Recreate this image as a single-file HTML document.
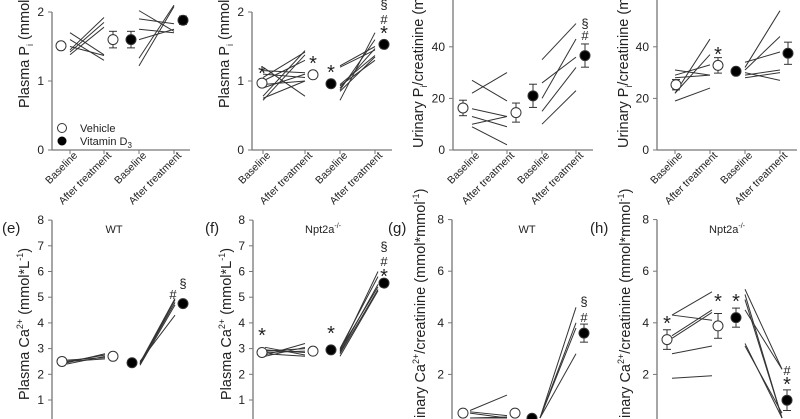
<!DOCTYPE html>
<html><head><meta charset="utf-8">
<style>
html,body{margin:0;padding:0;background:#fff;width:800px;height:419px;overflow:hidden;}
svg{display:block;font-family:"Liberation Sans",Arial,sans-serif;overflow:hidden;}
</style></head>
<body>
<svg id="fig" width="800" height="419" viewBox="0 0 800 419" xmlns="http://www.w3.org/2000/svg"></svg>
<script>
// ---- data (baseline -> after treatment per animal; means & SEM) ----
const categories = ["Baseline","After treatment","Baseline","After treatment"];
const aTicks = [0,1,2];
const aVehLines = [[1.7,1.38],[1.6,1.3],[1.5,1.37],[1.45,1.92],[1.42,1.85],[1.38,1.78]];
const aVitLines = [[2.02,1.72],[1.9,1.83],[1.75,1.7],[1.6,1.75],[1.33,2.1],[1.22,2.08]];
const aMeans = [1.51,1.6,1.6,1.88];
const aSem = [0.05,0.12,0.12,0.06];
const bTicks = [0,1,2];
const bVehLines = [[1.2,0.78],[1.15,1.12],[1.1,1.05],[1.05,1.42],[1.0,1.3],[0.95,1.0],[0.9,1.1],[0.78,1.44],[0.75,1.0],[0.72,1.38]];
const bVitLines = [[1.22,1.5],[1.2,1.45],[0.95,1.37],[0.93,1.3],[0.9,1.47],[0.87,1.6],[0.72,1.7],[0.85,1.35]];
const bMeans = [0.97,1.09,0.96,1.53];
const bSem = [0.04,0.05,0.05,0.05];
const cTicks = [0,20,40];
const cVehLines = [[27,19],[22,30],[16,13],[13,9],[10,13],[9,2]];
const cVitLines = [[35,49],[26,36],[20,43],[15,32],[10,23]];
const cMeans = [16.3,14.5,21,36.6];
const cSem = [3,3.7,4.5,4.5];
const dTicks = [0,20,40];
const dVehLines = [[31,29],[29,33],[28,29],[22,43],[22,37],[19,24]];
const dVitLines = [[34,38],[32,54],[31,44],[30,27],[29,31],[28,30]];
const dMeans = [25.3,32.8,30.5,37.5];
const dSem = [2,3,0.5,4.3];
const eTicks = [1,2,3,4,5,6,7,8];
const eVehLines = [[2.5,2.75],[2.55,2.65],[2.45,2.8],[2.5,2.6],[2.4,2.7]];
const eVitLines = [[2.4,4.9],[2.4,4.8],[2.45,4.95],[2.5,4.3],[2.35,4.7]];
const eMeans = [2.5,2.7,2.45,4.75];
const eSem = [0.03,0.03,0.04,0.1];
const fTicks = [1,2,3,4,5,6,7,8];
const fVehLines = [[2.75,3.2],[2.8,2.7],[2.9,3.0],[3.05,2.75],[2.85,2.9],[2.95,2.85],[2.7,3.05]];
const fVitLines = [[2.9,6.0],[2.85,5.5],[2.8,5.3],[2.95,5.4],[2.7,5.25],[3.0,5.8]];
const fMeans = [2.85,2.9,2.95,5.55];
const fSem = [0.03,0.03,0.04,0.08];
const gTicks = [2,4,6,8];
const gVehLines = [[0.6,1.2],[0.55,0.4],[0.5,0.3],[0.3,0.35],[0.1,0.2]];
const gVitLines = [[0.1,4.6],[0.2,4.0],[0.15,3.8],[0.0,2.8]];
const gMeans = [0.5,0.5,0.3,3.6];
const gSem = [0.05,0.12,0.05,0.35];
const hTicks = [2,4,6,8];
const hVehLines = [[4.3,5.2],[4.3,4.1],[3.5,4.5],[3.4,4.4],[2.8,3.1],[1.85,1.95]];
const hVitLines = [[5.3,2.2],[5.1,0.2],[4.5,2.2],[3.2,0.1],[3.1,0.5],[4.9,0.3]];
const hMeans = [3.35,3.88,4.2,1.0];
const hSem = [0.38,0.48,0.37,0.4];

const NS="http://www.w3.org/2000/svg";
const svg=document.getElementById('fig');
function mk(tag,attrs,parent){const e=document.createElementNS(NS,tag);for(const k in attrs)e.setAttribute(k,attrs[k]);(parent||svg).appendChild(e);return e;}

const panels=[
 {id:'a',ax:52,right:190,y0:150,vmax:2,ppu:69,ticks:aTicks,veh:aVehLines,vit:aVitLines,means:aMeans,sem:aSem,lx:[70,104,139,174],mx:[61,113,131,183],xaxis:true},
 {id:'b',ax:252,right:392,y0:150,vmax:2,ppu:69,ticks:bTicks,veh:bVehLines,vit:bVitLines,means:bMeans,sem:bSem,lx:[263,305,340,375],mx:[262,313,331,384],xaxis:true},
 {id:'c',ax:453,right:593,y0:150,vmax:60,ppu:2.58,ticks:cTicks,veh:cVehLines,vit:cVitLines,means:cMeans,sem:cSem,lx:[472,507,542,576],mx:[463,516,533,585],xaxis:true},
 {id:'d',ax:657,right:797,y0:150,vmax:60,ppu:2.58,ticks:dTicks,veh:dVehLines,vit:dVitLines,means:dMeans,sem:dSem,lx:[675,710,745,780],mx:[676,718,736,788],xaxis:true},
 {id:'e',ax:52,right:190,y0:425.7,vmax:8,ppu:25.7,ticks:eTicks,veh:eVehLines,vit:eVitLines,means:eMeans,sem:eSem,lx:[67,105,140,175],mx:[62,113,132,183]},
 {id:'f',ax:253,right:392,y0:425.7,vmax:8,ppu:25.7,ticks:fTicks,veh:fVehLines,vit:fVitLines,means:fMeans,sem:fSem,lx:[265,305,340,378],mx:[262,313,331,384]},
 {id:'g',ax:452,right:593,y0:426,vmax:8,ppu:25.8,ticks:gTicks,veh:gVehLines,vit:gVitLines,means:gMeans,sem:gSem,lx:[470,507,540,576],mx:[463,515,532,584]},
 {id:'h',ax:657,right:797,y0:426,vmax:8,ppu:25.8,ticks:hTicks,veh:hVehLines,vit:hVitLines,means:hMeans,sem:hSem,lx:[672,712,745,782],mx:[667,718,736,787]},
];

panels.forEach(p=>{
  const y=v=>p.y0-v*p.ppu;
  const g=mk('g',{});
  
  
  const yax=mk('line',{x1:p.ax,y1:Math.max(0,y(p.vmax)),x2:p.ax,y2:Math.min(419,p.y0),stroke:'#777','stroke-width':1.3},g);
  
  
  p.ticks.forEach(t=>{
    const ty=y(t);
    mk('line',{x1:p.ax-4,y1:ty,x2:p.ax,y2:ty,stroke:'#777','stroke-width':1},g);
    const tl=mk('text',{x:p.ax-8,y:ty+4,'text-anchor':'end','font-size':12,fill:'#222'},g);
    tl.textContent=t;
    
    
  });
  if(p.xaxis){
    const xax=mk('line',{x1:p.ax,y1:p.y0,x2:p.right,y2:p.y0,stroke:'#777','stroke-width':1.3},g);
    
    
    p.lx.forEach((lx,i)=>{
      mk('line',{x1:lx,y1:p.y0,x2:lx,y2:p.y0+4,stroke:'#777','stroke-width':1},g);
      const t=mk('text',{x:lx+8,y:p.y0+6,'text-anchor':'end','font-size':10.5,fill:'#222',transform:`rotate(-45 ${lx+8} ${p.y0+6})`},g);
      t.textContent=categories[i];
      
      
    });
  }
  [[p.veh,0],[p.vit,2]].forEach(([lines,o])=>{
    lines.forEach(l=>{
      const y1=Math.min(418,y(l[0])), y2=Math.min(418,y(l[1]));
      const ln=mk('line',{x1:p.lx[o],y1:y1,x2:p.lx[o+1],y2:y2,stroke:'#333','stroke-width':1},g);
      
      
    });
  });
  p.means.forEach((m,i)=>{
    const cx=p.mx[i], cy=y(m), s=p.sem[i]*p.ppu;
    if(s>3){
      mk('line',{x1:cx,y1:cy-s,x2:cx,y2:cy+s,stroke:'#333','stroke-width':1},g);
      mk('line',{x1:cx-4,y1:cy-s,x2:cx+4,y2:cy-s,stroke:'#333','stroke-width':1},g);
      mk('line',{x1:cx-4,y1:cy+s,x2:cx+4,y2:cy+s,stroke:'#333','stroke-width':1},g);
    }
    const c=mk('circle',{cx:cx,cy:cy,r:5,fill:i<2?'#fff':'#000',stroke:'#333','stroke-width':1},g);
    
    
  });
});

function t(x,y,s,size,name,anchor,rot){const e=document.createElementNS(NS,'text');e.setAttribute('x',x);e.setAttribute('y',y);e.setAttribute('font-size',size);e.setAttribute('fill','#222');if(anchor)e.setAttribute('text-anchor',anchor);if(rot)e.setAttribute('transform',`rotate(-90 ${x} ${y})`);e.innerHTML=s;svg.appendChild(e);return e;}
const S=(x,y)=>t(x,y,'*',20,'significance-star','middle');
const H=(x,y)=>t(x,y,'#',13,'hash-mark','middle');
const P=(x,y)=>t(x,y,'§',13,'section-mark','middle');
// b
S(262,80);S(313,70);S(331,79);S(384,40);H(384,24);P(384,9);
// c
H(585,40);P(585,28);
// d
S(718,61);
// e
H(173,299);P(183,288);
// f
S(262,342);S(331,340);S(384,283);H(384,266);P(384,251);
// g
H(584,322);P(584,306);
// h
S(667,330);S(718,308);S(736,308);S(787,391);H(787,375);
// legend
const cv=mk('circle',{cx:62,cy:128,r:4.5,fill:'#fff',stroke:'#333'});


const cd=mk('circle',{cx:62,cy:141,r:4.5,fill:'#000'});


t(80,132,'Vehicle',11,'legend-vehicle');
t(80,145,'Vitamin D<tspan font-size="8" dy="3">3</tspan>',11,'legend-vitamin-d3');
// panel labels & titles
t(2,233,'(e)',15,'panel-label-e');t(205,233,'(f)',15,'panel-label-f');t(388,233,'(g)',15,'panel-label-g');t(590,233,'(h)',15,'panel-label-h');
t(114,233,'WT',11,'panel-title-e','middle');t(323,233,'Npt2a<tspan font-size="7" dy="-5">-/-</tspan>',11,'panel-title-f','middle');
t(527,233,'WT',11,'panel-title-g','middle');t(727,233,'Npt2a<tspan font-size="7" dy="-5">-/-</tspan>',11,'panel-title-h','middle');
// y titles
const pi='Plasma P<tspan font-size="9" dy="4">i</tspan><tspan dy="-4"> (mmol*L</tspan>';
t(29,108,pi,14.5,'y-axis-title-a',null,true);
t(229,108,pi,14.5,'y-axis-title-b',null,true);
const up='Urinary P<tspan font-size="9" dy="4">i</tspan><tspan dy="-4">/creatinine (mmol</tspan>';
t(423,148,up,14.5,'y-axis-title-c',null,true);
t(628,148,up,14.5,'y-axis-title-d',null,true);
const ca='Plasma Ca<tspan font-size="9" dy="-6">2+</tspan><tspan dy="6"> (mmol*L</tspan><tspan font-size="9" dy="-6">-1</tspan><tspan dy="6">)</tspan>';
t(29,400,ca,14.5,'y-axis-title-e',null,true);
t(231,400,ca,14.5,'y-axis-title-f',null,true);
const uc='inary Ca<tspan font-size="9" dy="-6">2+</tspan><tspan dy="6">/creatinine (mmol*mmol</tspan><tspan font-size="9" dy="-6">-1</tspan><tspan dy="6">)</tspan>';
t(425,418,uc,14.5,'y-axis-title-g',null,true);
t(630,418,uc,14.5,'y-axis-title-h',null,true);
</script>
</body></html>
